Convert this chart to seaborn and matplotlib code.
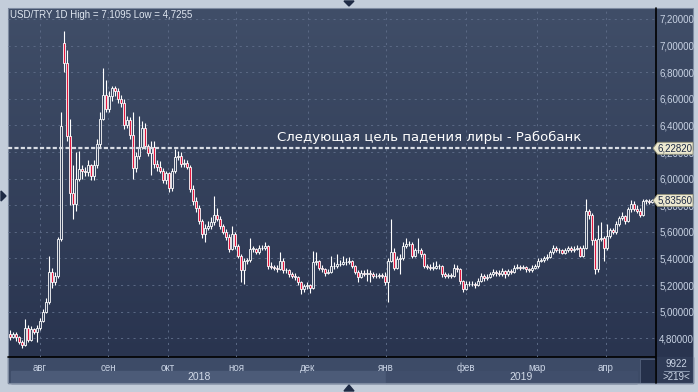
import numpy as np
import pandas as pd
import matplotlib
matplotlib.use("Agg")
import matplotlib.pyplot as plt
import matplotlib.transforms as mtransforms
from matplotlib.patches import Rectangle, Polygon
import seaborn as sns

# ---------------- data ----------------
title = "USD/TRY 1D High = 7,1095 Low = 4,7255"
annotation = "Следующая цель падения лиры - Рабобанк"

closes = [4.81, 4.83, 4.81, 4.77, 4.75, 4.88, 4.79, 4.87, 4.85, 4.88,
          4.93, 5.00, 5.07, 5.30, 5.22, 5.27, 5.545, 6.395, 6.87, 6.32,
          5.895, 5.81, 6.00, 6.07, 6.06, 6.05, 6.10, 6.02, 6.10, 6.26,
          6.45, 6.63, 6.52, 6.62, 6.68, 6.66, 6.60, 6.57, 6.40, 6.44,
          6.33, 6.08, 6.17, 6.24, 6.38, 6.245, 6.195, 6.235, 6.11, 6.09,
          6.06, 5.99, 6.04, 5.93, 6.06, 6.16, 6.17, 6.11, 6.12, 6.085,
          5.92, 5.83, 5.78, 5.68, 5.58, 5.63, 5.64, 5.67, 5.73, 5.695,
          5.64, 5.60, 5.56, 5.47, 5.58, 5.495, 5.42, 5.31, 5.38, 5.385,
          5.47, 5.47, 5.445, 5.48, 5.475, 5.49, 5.345, 5.335, 5.33, 5.32,
          5.38, 5.31, 5.31, 5.28, 5.27, 5.26, 5.22, 5.17, 5.19, 5.20,
          5.18, 5.37, 5.38, 5.33, 5.32, 5.29, 5.30, 5.345, 5.34, 5.355,
          5.36, 5.375, 5.37, 5.38, 5.34, 5.30, 5.26, 5.29, 5.285, 5.29,
          5.28, 5.27, 5.265, 5.275, 5.265, 5.22, 5.38, 5.45, 5.33, 5.395,
          5.40, 5.495, 5.51, 5.505, 5.42, 5.46, 5.46, 5.43, 5.345, 5.335,
          5.33, 5.33, 5.345, 5.34, 5.28, 5.27, 5.27, 5.27, 5.33, 5.32,
          5.23, 5.17, 5.205, 5.21, 5.205, 5.20, 5.23, 5.27, 5.25, 5.26,
          5.285, 5.295, 5.29, 5.285, 5.305, 5.28, 5.305, 5.30, 5.33, 5.335,
          5.33, 5.335, 5.32, 5.315, 5.33, 5.345, 5.38, 5.385, 5.405, 5.41,
          5.445, 5.48, 5.46, 5.465, 5.44, 5.46, 5.48, 5.465, 5.47, 5.48,
          5.42, 5.48, 5.755, 5.73, 5.535, 5.32, 5.545, 5.555, 5.48, 5.57,
          5.61, 5.595, 5.66, 5.705, 5.72, 5.68, 5.77, 5.81, 5.775, 5.76,
          5.73, 5.83, 5.835, 5.825, 5.8356]

highs = [4.86, 4.85, 4.85, 4.82, 4.79, 4.945, 4.90, 4.89, 4.88, 4.90,
         4.95, 5.02, 5.10, 5.42, 5.33, 5.30, 5.56, 6.50, 7.1095, 6.97,
         6.45, 6.10, 6.20, 6.21, 6.10, 6.09, 6.14, 6.11, 6.14, 6.30,
         6.50, 6.83, 6.745, 6.66, 6.70, 6.70, 6.68, 6.63, 6.60, 6.47,
         6.46, 6.50, 6.20, 6.47, 6.43, 6.42, 6.26, 6.28, 6.28, 6.14,
         6.13, 6.08, 6.06, 6.05, 6.08, 6.22, 6.21, 6.20, 6.15, 6.14,
         6.10, 5.95, 5.86, 5.80, 5.70, 5.66, 5.68, 5.71, 5.87, 5.78,
         5.72, 5.66, 5.62, 5.58, 5.645, 5.60, 5.51, 5.43, 5.40, 5.40,
         5.55, 5.49, 5.48, 5.50, 5.50, 5.52, 5.50, 5.37, 5.35, 5.35,
         5.445, 5.40, 5.33, 5.32, 5.30, 5.29, 5.27, 5.23, 5.21, 5.22,
         5.21, 5.457, 5.45, 5.39, 5.35, 5.33, 5.32, 5.42, 5.37, 5.43,
         5.39, 5.42, 5.40, 5.41, 5.39, 5.35, 5.31, 5.31, 5.31, 5.32,
         5.31, 5.30, 5.29, 5.29, 5.29, 5.30, 5.40, 5.695, 5.48, 5.42,
         5.43, 5.52, 5.555, 5.53, 5.52, 5.48, 5.555, 5.48, 5.44, 5.36,
         5.36, 5.37, 5.38, 5.36, 5.35, 5.30, 5.29, 5.29, 5.36, 5.35,
         5.33, 5.24, 5.23, 5.23, 5.23, 5.22, 5.25, 5.29, 5.28, 5.28,
         5.30, 5.32, 5.31, 5.31, 5.33, 5.31, 5.32, 5.32, 5.35, 5.36,
         5.35, 5.35, 5.34, 5.33, 5.35, 5.36, 5.40, 5.40, 5.42, 5.43,
         5.46, 5.50, 5.49, 5.48, 5.47, 5.48, 5.49, 5.49, 5.49, 5.50,
         5.49, 5.50, 5.845, 5.77, 5.74, 5.55, 5.65, 5.67, 5.57, 5.66,
         5.63, 5.63, 5.68, 5.72, 5.75, 5.73, 5.79, 5.84, 5.83, 5.80,
         5.78, 5.85, 5.85, 5.85, 5.85]

lows = [4.79, 4.80, 4.78, 4.76, 4.7255, 4.74, 4.77, 4.78, 4.83, 4.77,
        4.86, 4.92, 4.99, 5.06, 5.18, 5.20, 5.25, 5.53, 6.80, 6.28,
        5.80, 5.695, 5.76, 5.98, 6.00, 6.02, 6.02, 5.99, 5.99, 6.08,
        6.24, 6.44, 6.50, 6.50, 6.58, 6.62, 6.57, 6.54, 6.37, 6.38,
        6.30, 6.00, 6.05, 6.15, 6.22, 6.22, 6.17, 6.03, 6.08, 6.06,
        6.04, 5.97, 5.96, 5.90, 5.91, 6.04, 6.14, 6.09, 6.09, 6.07,
        5.90, 5.80, 5.75, 5.66, 5.55, 5.52, 5.61, 5.62, 5.65, 5.68,
        5.62, 5.58, 5.54, 5.45, 5.46, 5.47, 5.40, 5.22, 5.21, 5.36,
        5.37, 5.45, 5.43, 5.43, 5.46, 5.46, 5.32, 5.32, 5.31, 5.30,
        5.31, 5.29, 5.29, 5.26, 5.25, 5.24, 5.20, 5.13, 5.15, 5.17,
        5.14, 5.17, 5.35, 5.31, 5.30, 5.27, 5.28, 5.29, 5.32, 5.33,
        5.34, 5.35, 5.35, 5.36, 5.33, 5.28, 5.22, 5.25, 5.27, 5.23,
        5.22, 5.25, 5.25, 5.25, 5.25, 5.20, 5.07, 5.37, 5.31, 5.32,
        5.28, 5.39, 5.48, 5.49, 5.40, 5.41, 5.44, 5.41, 5.33, 5.32,
        5.31, 5.31, 5.32, 5.32, 5.26, 5.25, 5.25, 5.25, 5.26, 5.30,
        5.21, 5.15, 5.16, 5.19, 5.19, 5.18, 5.19, 5.22, 5.23, 5.24,
        5.25, 5.27, 5.27, 5.27, 5.27, 5.25, 5.27, 5.28, 5.29, 5.32,
        5.31, 5.32, 5.30, 5.30, 5.30, 5.32, 5.33, 5.37, 5.37, 5.39,
        5.40, 5.43, 5.45, 5.44, 5.43, 5.43, 5.45, 5.45, 5.45, 5.46,
        5.41, 5.41, 5.47, 5.70, 5.50, 5.28, 5.30, 5.53, 5.38, 5.46,
        5.55, 5.58, 5.58, 5.64, 5.69, 5.66, 5.67, 5.75, 5.76, 5.74,
        5.71, 5.72, 5.81, 5.81, 5.82]

first_open = 4.83
gap_opens = {18: 7.02}           # weekend gap: open differs from previous close

month_labels = ["авг", "сен", "окт", "ноя", "дек", "янв", "фев", "мар", "апр"]
month_pos = [10, 32.67, 52.67, 75.33, 99.33, 125.33, 152, 175.67, 198.67]
year_labels = ["2018", "2019"]
year_pos = [63, 170.3]
y_ticks = [4.8, 5.0, 5.2, 5.4, 5.6, 5.8, 6.0, 6.2, 6.4, 6.6, 6.8, 7.0, 7.2]
target_level = 6.2282
last_price = 5.8356
counter_top = "9922"
counter_bottom = ">219<"

# ---------------- build frame ----------------
opens = [first_open] + closes[:-1]
for k, v in gap_opens.items():
    opens[k] = v
df = pd.DataFrame({"idx": np.arange(len(closes)), "open": opens, "high": highs,
                   "low": lows, "close": closes})
df["up"] = df["close"] >= df["open"]
df["bottom"] = df[["open", "close"]].min(axis=1)
df["height"] = (df["close"] - df["open"]).abs().clip(lower=0.006)

# ---------------- style ----------------
sns.set_theme(style="dark")
plt.rcParams["font.family"] = ["Liberation Sans", "DejaVu Sans"]
plt.rcParams["lines.scale_dashes"] = False

W, H = 698, 392
fig = plt.figure(figsize=(W / 100, H / 100), dpi=100, facecolor="#c3cdda")

# background / frame axes in pixel coordinates (y down)
bg = fig.add_axes([0, 0, 1, 1], zorder=0)
bg.set_xlim(0, W)
bg.set_ylim(H, 0)
bg.axis("off")

top_c = np.array([0x40, 0x4e, 0x68]) / 255
bot_c = np.array([0x29, 0x34, 0x4f]) / 255
t = np.linspace(0, 1, 256)[:, None, None]
grad = top_c[None, None, :] * (1 - t) + bot_c[None, None, :] * t
bg.imshow(grad, extent=[8, 693, 357, 8], aspect="auto", zorder=0, interpolation="bilinear")
# x axis strip
bg.add_patch(Rectangle((8, 357), 647, 26, color="#3d4b67", zorder=1))
bg.add_patch(Rectangle((11, 371), 375, 12, color="#4c5b78", zorder=2))
bg.add_patch(Rectangle((386, 371), 251, 12, color="#404e6b", zorder=2))
bg.add_patch(Rectangle((640, 359), 15, 24, facecolor="#25304a", edgecolor="#55627c", lw=0.6, zorder=2))
bg.add_patch(Rectangle((655, 357), 38, 26, color="#2f3b56", zorder=1))
bg.add_patch(Rectangle((8, 8), 685, 375, facecolor="none", edgecolor="#7d8aa0", lw=0.8, zorder=3))
bg.plot([8, 655], [357, 357], color="black", lw=1.2, zorder=4)
bg.plot([655.5, 655.5], [8, 383], color="black", lw=1.2, zorder=4)
bg.plot([664, 689], [371, 371], color="#8896ad", lw=0.7, zorder=4)
bg.text(676, 364, counter_top, ha="center", va="center", fontsize=7, color="#c8d2e3", zorder=5)
bg.text(676, 377, counter_bottom, ha="center", va="center", fontsize=7, color="#c8d2e3", zorder=5)
# small navigation triangles
tri_c = "#1f2b45"
bg.add_patch(Polygon([[344, 1], [354, 1], [349, 6]], closed=True, color=tri_c, zorder=5))
bg.add_patch(Polygon([[344, 391], [354, 391], [349, 385]], closed=True, color=tri_c, zorder=5))
bg.add_patch(Polygon([[1, 191], [1, 201], [6, 196]], closed=True, color=tri_c, zorder=5))
bg.text(10, 15, title, ha="left", va="center", fontsize=7, color="#e0e7f1", zorder=5)

# main chart axes
ax = fig.add_axes([8 / W, 1 - 357 / H, 647 / W, (357 - 9) / H], zorder=2)
ax.set_facecolor("none")
ax.set_xlim(-0.67, 215)
ax.set_ylim(7.2 - (357 - 19) / 133, 7.2 + 10 / 133)
for s in ax.spines.values():
    s.set_visible(False)

ax.set_yticks(y_ticks)
ax.set_yticklabels([f"{v:.5f}".replace(".", ",") for v in y_ticks])
ax.yaxis.tick_right()
ax.set_xticks(month_pos)
ax.set_xticklabels(month_labels)
ax.tick_params(axis="both", length=0, labelsize=7, labelcolor="#c8d2e3")
ax.tick_params(axis="y", pad=3)
ax.tick_params(axis="x", pad=4)
ax.grid(True, color="#5b6985", lw=0.7, linestyle=(0, (1.5, 3)))
ax.set_axisbelow(True)

# candles
ax.vlines(df["idx"], df["low"], df["high"], color="white", lw=0.8, zorder=3)
ax.bar(df["idx"], df["height"], bottom=df["bottom"], width=0.8,
       color=np.where(df["up"], "#34415c", "#e3173e"),
       edgecolor="white", linewidth=0.6, zorder=4)

# target level
ax.axhline(target_level, color="#d9dde5", lw=1.6, linestyle=(0, (3, 1.6)), zorder=5)
ax.text(89, 6.313, annotation, ha="left", va="center", fontsize=9.5,
        color="white", family="DejaVu Sans", zorder=6)

# year labels under months
ytrans = mtransforms.blended_transform_factory(ax.transData, bg.transData)
for lab, pos in zip(year_labels, year_pos):
    bg.text(pos, 377, lab, transform=ytrans, ha="center", va="center",
            fontsize=7.5, color="#d2dae8", zorder=6)

# overlay axes for price tags (drawn above the tick labels they cover)
ov = fig.add_axes([0, 0, 1, 1], zorder=10)
ov.set_xlim(0, W)
ov.set_ylim(H, 0)
ov.axis("off")
ov.set_facecolor("none")

fig.canvas.draw()
for level in (target_level, last_price):
    ypix = H - ax.transData.transform((0, level))[1]
    poly = [[653, ypix], [657.5, ypix - 6], [693, ypix - 6], [693, ypix + 6], [657.5, ypix + 6]]
    ov.add_patch(Polygon(poly, closed=True, facecolor="#ece8cf", edgecolor="#8f8f78",
                         lw=0.6, zorder=7))
    ov.text(675.5, ypix, f"{level:.5f}".replace(".", ","), ha="center", va="center",
            fontsize=7, color="#1e2a44", zorder=8)

fig.savefig("out.png", dpi=100, facecolor=fig.get_facecolor())
